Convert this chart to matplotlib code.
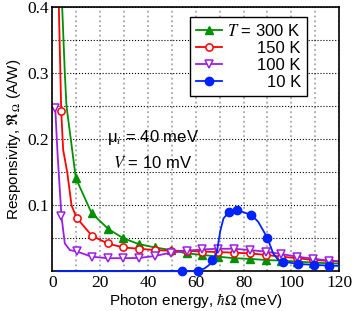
import numpy as np
import matplotlib
matplotlib.use("Agg")
import matplotlib.pyplot as plt
from matplotlib.ticker import MultipleLocator

plt.rcParams['font.family'] = ['Liberation Sans', 'DejaVu Sans']
plt.rcParams['mathtext.fontset'] = 'stix'

# photon energy (meV) and responsivity (A/W)
e_300 = [4.1, 5.2, 5.9, 7.7, 9.8, 16.4, 23.4, 29.6, 36.2, 42.9, 49.6, 56.2, 62.8,
         69.4, 76.0, 82.6, 89.2, 95.8, 102.4, 109.0, 115.6, 120.0]
r_300 = [0.40, 0.30, 0.25, 0.20, 0.141, 0.088, 0.064, 0.050, 0.041, 0.036, 0.032,
         0.027, 0.0247, 0.022, 0.0197, 0.0186, 0.017, 0.016, 0.0146, 0.013, 0.012, 0.0115]

e_150 = [2.7, 3.7, 4.5, 6.2, 8.0, 10.1, 16.6, 23.1, 29.6, 36.2, 42.9, 49.6, 56.2,
         62.8, 69.4, 76.0, 82.6, 89.2, 95.8, 102.4, 109.0, 115.6, 120.0]
r_150 = [0.40, 0.242, 0.184, 0.15, 0.10, 0.081, 0.0535, 0.042, 0.036, 0.034, 0.032,
         0.031, 0.0307, 0.0297, 0.029, 0.028, 0.027, 0.0247, 0.022, 0.0197, 0.017,
         0.0156, 0.0148]

e_100 = [0.0, 1.2, 2.2, 3.8, 5.2, 7.3, 10.1, 16.4, 23.1, 29.6, 36.2, 42.9, 49.6, 56.2,
         62.8, 69.4, 76.0, 82.6, 89.2, 95.8, 102.4, 109.0, 115.6, 120.0]
r_100 = [0.247, 0.247, 0.175, 0.083, 0.042, 0.032, 0.030, 0.022, 0.0197, 0.0197, 0.020,
         0.023, 0.028, 0.031, 0.033, 0.034, 0.034, 0.032, 0.0297, 0.026, 0.022, 0.019,
         0.016, 0.015]

e_10 = [2.0, 54.3, 60.9, 63.8, 65.6, 67.0, 68.8, 70.2, 71.6, 73.8, 77.1, 83.3, 86.1,
        89.9, 92.4, 94.5, 96.3, 102.8, 109.4, 115.8, 120.0]
r_10 = [0.0, 0.0, 0.0, 0.0045, 0.0095, 0.017, 0.028, 0.060, 0.080, 0.089, 0.093, 0.085,
        0.075, 0.051, 0.027, 0.017, 0.0146, 0.011, 0.0095, 0.0085, 0.008]

fig = plt.figure(figsize=(3.54, 3.11), dpi=100)
ax = fig.add_axes([0.148, 0.128, 0.81, 0.849])

lw = 1.3
ax.plot(e_300, r_300, color='#009000', lw=lw, marker='^', ms=5.5,
        markevery=list(range(4, len(e_300) - 1)), label='$T$ = 300 K')
ax.plot(e_150, r_150, color='#ff0000', lw=lw, marker='o', ms=5.2, mfc='white',
        mew=1.1, markevery=[1] + list(range(5, len(e_150) - 1)), label='150 K')
ax.plot(e_100, r_100, color='#9a1ee6', lw=lw, marker='v', ms=5.5, mfc='white',
        mew=1.1, markevery=[1, 3] + list(range(6, len(e_100) - 1)), label='100 K')
ax.plot(e_10, r_10, color='#0022ff', lw=lw, marker='o', ms=6,
        markevery=[1, 2, 5, 9, 10, 11, 13] + list(range(16, len(e_10) - 1)),
        label='10 K', clip_on=False, zorder=5)

ax.set_xlim(0, 120)
ax.set_ylim(0, 0.4)
ax.xaxis.set_major_locator(MultipleLocator(20))
ax.xaxis.set_minor_locator(MultipleLocator(10))
ax.set_yticks([0.1, 0.2, 0.3, 0.4])
ax.yaxis.set_minor_locator(MultipleLocator(0.05))
ax.tick_params(which='both', direction='in', length=0, labelsize=12.5, pad=2.5)
for t in ax.get_xticklabels() + ax.get_yticklabels():
    t.set_fontfamily('Liberation Serif')

ax.grid(axis='y', which='both', color='k', ls=':', lw=0.8)
ax.grid(axis='x', which='both', color='0.65', ls=':', lw=1.3)
ax.set_axisbelow(True)
for s in ax.spines.values():
    s.set_linewidth(1.2)

ax.set_xlabel(r'Photon energy, $\hbar\Omega$ (meV)', fontsize=11, labelpad=0)
ax.set_ylabel(r'Responsivity, $\Re_\Omega$ (A/W)', fontsize=11, labelpad=3)

ax.text(42, 0.202, 'μ$_i$ = 40 meV', fontsize=12, ha='center', va='center')
ax.text(42, 0.164, '$V$ = 10 mV', fontsize=12, ha='center', va='center')

leg = ax.legend(loc='upper right', bbox_to_anchor=(0.887, 0.962), fontsize=12,
                fancybox=False, edgecolor='k', framealpha=1, labelspacing=0.12,
                handlelength=1.6, handletextpad=0.3, borderpad=0.35,
                borderaxespad=0)
leg.get_frame().set_linewidth(1.0)

# right-align the legend labels
fig.canvas.draw()
r = fig.canvas.get_renderer()
widths = [t.get_window_extent(r).width for t in leg.get_texts()]
for t, w in zip(leg.get_texts(), widths):
    t.set_position((max(widths) - w, 0))

fig.savefig('out.png', dpi=100)
